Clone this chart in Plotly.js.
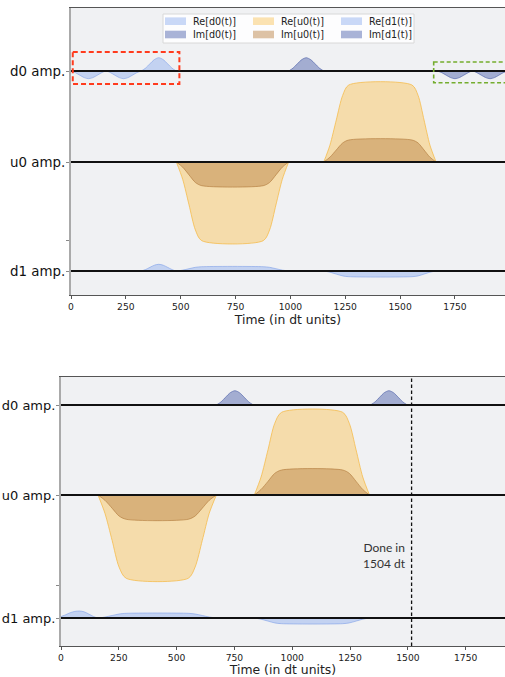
<!DOCTYPE html>
<html><head><meta charset="utf-8">
<script src="https://cdn.plot.ly/plotly-3.0.1.min.js"></script>
<style>html,body{margin:0;padding:0;background:#fff}#chart{width:505px;height:677px}</style>
</head><body><div id="chart"></div>
<script>
// ---------------- data ----------------
const channelLabels = ['d0 amp.', 'u0 amp.', 'd1 amp.'];
const xTicks = [0, 250, 500, 750, 1000, 1250, 1500, 1750];
const legendNames = [['Re[d0(t)]', 'Im[d0(t)]'], ['Re[u0(t)]', 'Im[u0(t)]'], ['Re[d1(t)]', 'Im[d1(t)]']];

// top schedule (A): channel baseline offsets (drawing units)
const A_offsets = [-0.63, -1.54, -2.63];
const A_extraTick = -2.32;
const A_re_d0_t = [0,20,40,60,80,100,120,140,160,180,200,220,240,260,280,300,320,340,360,380,400,420,440,460,480];
const A_re_d0_v = [0,-0.017,-0.042,-0.066,-0.077,-0.066,-0.042,-0.017,0,-0.017,-0.042,-0.066,-0.077,-0.066,-0.042,-0.017,0,0.029,0.073,0.114,0.133,0.114,0.073,0.029,0];
const A_im_d0_t = [992,1012,1032,1052,1072,1092,1112,1132,1152,null,1670,1690,1710,1730,1750,1770,1790,1810,1830,1850,1870,1890,1910,1930,1950,1970,1990];
const A_im_d0_v = [0,0.029,0.073,0.114,0.133,0.114,0.073,0.029,0,null,0,-0.017,-0.042,-0.066,-0.077,-0.066,-0.042,-0.017,0,-0.017,-0.042,-0.066,-0.077,-0.066,-0.042,-0.017,0];
const A_u0_t = [480,509,538,567,596,876,905,934,963,992,null,1152,1180,1209,1238,1266,1554,1582,1609,1636,1664];
const A_re_u0_v = [0,-0.173,-0.429,-0.68,-0.787,-0.787,-0.68,-0.429,-0.173,0,null,0,0.168,0.42,0.665,0.77,0.77,0.665,0.42,0.168,0];
const A_im_u0_v = [0,-0.052,-0.129,-0.205,-0.237,-0.237,-0.205,-0.129,-0.052,0,null,0,0.048,0.12,0.19,0.22,0.22,0.19,0.12,0.048,0];
const A_re_d1_t = [320,340,360,380,400,420,440,460,480,509,538,567,596,876,905,934,963,992,null,1152,1180,1209,1238,1266,1554,1582,1609,1636,1664];
const A_re_d1_v = [0,0.015,0.037,0.058,0.067,0.058,0.037,0.015,0,0.009,0.023,0.037,0.043,0.043,0.037,0.023,0.009,0,null,0,-0.012,-0.031,-0.049,-0.057,-0.057,-0.049,-0.031,-0.012,0];

// bottom schedule (B)
const B_offsets = [-0.28, -1.18, -2.41];
const B_extraTick = -2.08;
const B_im_d0_t = [672,692,712,732,752,772,792,812,832,null,1338,1358,1378,1398,1418,1438,1458,1478,1498];
const B_im_d0_v = [0,0.031,0.078,0.123,0.143,0.123,0.078,0.031,0,null,0,0.031,0.078,0.123,0.143,0.123,0.078,0.031,0];
const B_u0_t = [160,190,221,251,282,550,580,611,641,672,null,836,865,895,924,954,1218,1247,1276,1305,1334];
const B_re_u0_v = [0,-0.183,-0.454,-0.72,-0.833,-0.833,-0.72,-0.454,-0.183,0,null,0,0.179,0.451,0.715,0.827,0.827,0.715,0.451,0.179,0];
const B_im_u0_v = [0,-0.053,-0.132,-0.21,-0.243,-0.243,-0.21,-0.132,-0.053,0,null,0,0.055,0.136,0.216,0.25,0.25,0.216,0.136,0.055,0];
const B_re_d1_t = [0,0,20,40,60,80,100,120,140,160,190,221,251,282,550,580,611,641,672,null,836,865,895,924,954,1218,1247,1276,1305,1334];
const B_re_d1_v = [0,0.012,0.032,0.053,0.066,0.07,0.062,0.04,0.016,0,0.01,0.025,0.04,0.047,0.047,0.04,0.025,0.01,0,null,0,-0.012,-0.031,-0.049,-0.057,-0.057,-0.049,-0.031,-0.012,0];
const doneLabel = 'Done in<br>1504 dt';
const doneLineT = 1516;

// ---------------- styles ----------------
const W = 505, H = 677;
const px = v => v / W, py = v => (H - v) / H;
const STY = {
  reD: {fill: 'rgba(150,180,240,0.5)', line: 'rgba(120,155,232,0.55)'},
  imD: {fill: 'rgba(85,105,175,0.5)', line: 'rgba(70,90,165,0.6)'},
  reU: {fill: 'rgba(250,200,100,0.5)', line: 'rgba(245,185,70,0.75)'},
  imU: {fill: 'rgba(190,135,75,0.5)', line: 'rgba(175,118,55,0.6)'}
};
const FONT = 'DejaVu Sans, sans-serif';

function pulse(t, v, off, sty, xa, ya) {
  return {
    x: t, y: v.map(a => a === null ? null : off + a),
    xaxis: xa, yaxis: ya, type: 'scatter', mode: 'lines',
    line: {color: sty.line, width: 1, shape: 'spline', smoothing: 0.8},
    fill: 'toself', fillcolor: sty.fill, hoverinfo: 'skip', showlegend: false
  };
}

const data = [
  pulse(A_re_d0_t, A_re_d0_v, A_offsets[0], STY.reD, 'x', 'y'),
  pulse(A_im_d0_t, A_im_d0_v, A_offsets[0], STY.imD, 'x', 'y'),
  pulse(A_u0_t, A_re_u0_v, A_offsets[1], STY.reU, 'x', 'y'),
  pulse(A_u0_t, A_im_u0_v, A_offsets[1], STY.imU, 'x', 'y'),
  pulse(A_re_d1_t, A_re_d1_v, A_offsets[2], STY.reD, 'x', 'y'),
  pulse(B_im_d0_t, B_im_d0_v, B_offsets[0], STY.imD, 'x2', 'y2'),
  pulse(B_u0_t, B_re_u0_v, B_offsets[1], STY.reU, 'x2', 'y2'),
  pulse(B_u0_t, B_im_u0_v, B_offsets[1], STY.imU, 'x2', 'y2'),
  pulse(B_re_d1_t, B_re_d1_v, B_offsets[2], STY.reD, 'x2', 'y2')
];

function xax(domain, range, anchor, standoff) {
  return {
    domain: domain, range: range, anchor: anchor,
    tickvals: xTicks, ticktext: xTicks.map(String),
    ticks: 'outside', ticklen: 3, tickcolor: '#555', tickwidth: 1,
    tickfont: {family: FONT, size: 9.2, color: '#222'},
    showline: true, linecolor: '#555', linewidth: 1, mirror: true,
    showgrid: false, zeroline: false,
    title: {text: 'Time (in dt units)', font: {family: FONT, size: 12.4, color: '#222'}, standoff: standoff}
  };
}
function yax(domain, range, anchor, offs, extra, fs) {
  return {
    domain: domain, range: range, anchor: anchor,
    tickvals: offs.concat([extra]), ticktext: channelLabels.concat(['']),
    ticks: 'outside', ticklen: 3, tickcolor: '#888', tickwidth: 1,
    ticklabelstandoff: -2,
    tickfont: {family: FONT, size: fs, color: '#111'},
    showline: true, linecolor: '#aaaaaa', linewidth: 2,
    showgrid: false, zeroline: false
  };
}

const shapes = [];
A_offsets.forEach(o => shapes.push({type: 'line', xref: 'x domain', yref: 'y', x0: 0, x1: 1, y0: o, y1: o, line: {color: '#111', width: 1.8}}));
B_offsets.forEach(o => shapes.push({type: 'line', xref: 'x2 domain', yref: 'y2', x0: 0, x1: 1, y0: o, y1: o, line: {color: '#111', width: 1.8}}));
// highlight boxes
shapes.push({type: 'rect', xref: 'x', yref: 'y', x0: 8, x1: 494, y0: -0.44, y1: -0.76, line: {color: '#ff3b1d', width: 2, dash: '5px,3px'}, fillcolor: 'rgba(0,0,0,0)'});
shapes.push({type: 'rect', xref: 'x', yref: 'y', x0: 1653, x1: 2100, y0: -0.54, y1: -0.747, line: {color: '#74ad2e', width: 1.6, dash: '4px,2.5px'}, fillcolor: 'rgba(0,0,0,0)'});
// done marker
shapes.push({type: 'line', xref: 'x2', yref: 'y2 domain', x0: doneLineT, x1: doneLineT, y0: 0, y1: 1, line: {color: '#111', width: 1.3, dash: '3.5px,2.5px'}});

// manual legend
shapes.push({type: 'rect', xref: 'paper', yref: 'paper', x0: px(163), x1: px(414), y0: py(43), y1: py(14), line: {color: '#d8d8d8', width: 1}, fillcolor: 'rgba(255,255,255,0.85)'});
const annotations = [];
const colX = [165, 253, 341];
const rowY = [21.2, 34.5];
const swatch = [[STY.reD, STY.imD], [STY.reU, STY.imU], [STY.reD, STY.imD]];
colX.forEach((cx, c) => rowY.forEach((ry, r) => {
  shapes.push({type: 'rect', xref: 'paper', yref: 'paper', x0: px(cx), x1: px(cx + 21), y0: py(ry + 3.8), y1: py(ry - 3.8), line: {width: 0}, fillcolor: swatch[c][r].fill});
  annotations.push({xref: 'paper', yref: 'paper', x: px(cx + 27), y: py(ry), xanchor: 'left', yanchor: 'middle', text: legendNames[c][r], showarrow: false, font: {family: FONT, size: 9.6, color: '#222'}, borderpad: 0});
}));
annotations.push({xref: 'x2', yref: 'y2', x: doneLineT, y: -1.78, xanchor: 'right', yanchor: 'middle', xshift: -5, align: 'right', text: doneLabel, showarrow: false, font: {family: 'Lato, sans-serif', size: 12, color: '#333'}, borderpad: 0});

const layout = {
  width: W, height: H, margin: {l: 0, r: 0, t: 0, b: 0},
  paper_bgcolor: '#ffffff', plot_bgcolor: '#f0f1f3', showlegend: false,
  xaxis: xax([71 / W, 1], [0, 1978], 'y', 2),
  yaxis: yax([(H - 295) / H, (H - 8) / H], [-2.87, 0], 'x', A_offsets, A_extraTick, 13.4),
  xaxis2: xax([61 / W, 1], [0, 1920], 'y2', 8),
  yaxis2: yax([(H - 646) / H, (H - 377) / H], [-2.69, 0], 'x2', B_offsets, B_extraTick, 13),
  shapes: shapes, annotations: annotations
};
Plotly.newPlot('chart', data, layout, {displayModeBar: false, staticPlot: true});
</script></body></html>
